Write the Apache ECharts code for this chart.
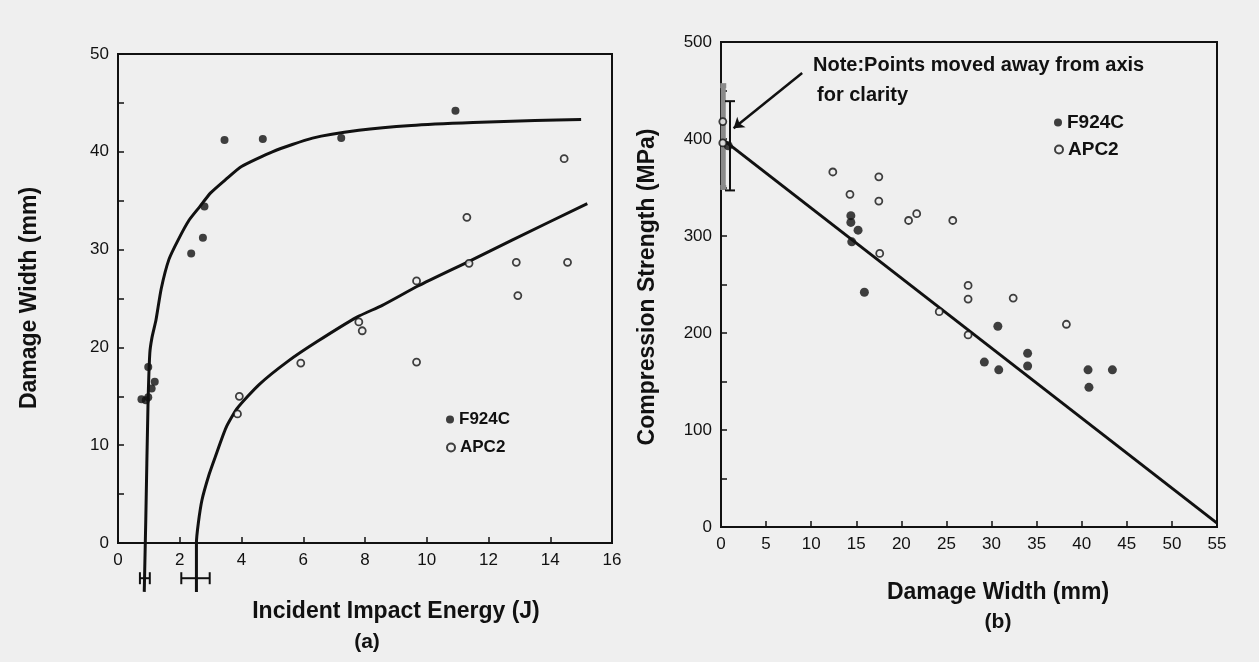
<!DOCTYPE html>
<html>
<head>
<meta charset="utf-8">
<script src="https://cdn.jsdelivr.net/npm/echarts@6/dist/echarts.min.js"></script>
<style>
html, body { margin: 0; padding: 0; background: #efefef; }
#chart { width: 1259px; height: 662px; }
</style>
</head>
<body>
<div id="chart"></div>
<script>
// (a) damage width vs incident impact energy
var aF924cX = [0.76, 0.9, 0.98, 1.09, 1.19, 0.98, 2.37, 2.75, 2.8, 3.45, 4.69, 7.23, 10.93];
var aF924cY = [14.7, 14.6, 14.9, 15.8, 16.5, 18.0, 29.6, 31.2, 34.4, 41.2, 41.3, 41.4, 44.2];
var aApc2X = [3.87, 3.93, 5.92, 7.8, 7.91, 9.67, 9.67, 11.3, 11.37, 12.9, 12.95, 14.45, 14.56];
var aApc2Y = [13.2, 15.0, 18.4, 22.6, 21.7, 18.5, 26.8, 33.3, 28.6, 28.7, 25.3, 39.3, 28.7];
// fitted curves
var aF924cFitX = [0.85, 0.9, 0.97, 1.03, 1.1, 1.23, 1.4, 1.65, 1.95, 2.3, 2.65, 3.0, 3.5, 4.0, 5.0, 6.3, 7.8, 9.5, 11.5, 13.5, 15.0];
var aF924cFitY = [-5, 2.4, 13.9, 19.4, 21, 22.8, 26, 29, 31.0, 33.0, 34.4, 35.8, 37.2, 38.5, 40.0, 41.4, 42.2, 42.7, 43.0, 43.2, 43.3];
var aApc2FitX = [2.54, 2.54, 2.6, 2.72, 2.95, 3.15, 3.5, 3.87, 4.57, 5.51, 6.45, 7.74, 8.56, 9.73, 11.37, 12.78, 15.2];
var aApc2FitY = [-5, 0, 2, 4.4, 7, 8.8, 11.8, 13.8, 16.2, 18.6, 20.6, 23.1, 24.3, 26.3, 28.8, 31.0, 34.7];
// threshold error bars under the energy axis
var aErrY = [-3.6, -3.6];
var aErrLow = [0.71, 2.05];
var aErrHigh = [1.03, 2.97];
var aXTicks = [0, 16, 2];
var aYTicks = [0, 50, 5];

// (b) compression strength vs damage width
var bF924cX = [0.8, 14.4, 14.4, 15.2, 14.5, 15.9, 29.2, 30.7, 30.8, 34.0, 34.0, 40.7, 40.8, 43.4];
var bF924cY = [393, 321, 314, 306, 294, 242, 170, 207, 162, 179, 166, 162, 144, 162];
var bApc2X = [0.2, 0.2, 12.4, 14.3, 17.5, 17.5, 17.6, 20.8, 21.7, 25.7, 24.2, 27.4, 27.4, 27.4, 32.4, 38.3];
var bApc2Y = [418, 396, 366, 343, 361, 336, 282, 316, 323, 316, 222, 249, 235, 198, 236, 209];
var bFitX = [0.4, 55];
var bFitY = [398, 4];
var bErrX = [0.25, 1.0];
var bErrLow = [350, 347];
var bErrHigh = [455, 439];
var bArrowX = [9.0, 1.4];
var bArrowY = [468, 411];
var bXTicks = [0, 55, 5];
var bYTicks = [0, 500, 50];

var BG = '#efefef';
var INK = '#111';
var FONT = '"Liberation Sans", Arial, sans-serif';

var zip = function (xs, ys) {
    return xs.map(function (x, i) { return [x, ys[i]]; });
};

var axisCommon = function (ticks, gridIndex, step) {
    return {
        type: 'value', gridIndex: gridIndex,
        min: ticks[0], max: ticks[1], interval: ticks[2],
        splitLine: { show: false },
        axisLine: { lineStyle: { color: INK, width: 2 } },
        axisTick: { inside: true, length: 6, lineStyle: { color: INK, width: 1.5 } },
        axisLabel: {
            color: '#111', fontFamily: FONT, fontSize: 17, margin: 9,
            formatter: function (v) { return v % step === 0 ? String(v) : ''; }
        }
    };
};

// error bar drawn in pixels from data ends
var errBar = function (vertical, color, width, cap) {
    return function (params, api) {
        var c = api.value(0), lo = api.value(1), hi = api.value(2);
        var p1 = vertical ? api.coord([c, lo]) : api.coord([lo, c]);
        var p2 = vertical ? api.coord([c, hi]) : api.coord([hi, c]);
        var st = { stroke: color, lineWidth: width };
        var caps = vertical ? [
            { type: 'line', shape: { x1: p1[0] - cap, y1: p1[1], x2: p1[0] + cap, y2: p1[1] }, style: st },
            { type: 'line', shape: { x1: p2[0] - cap, y1: p2[1], x2: p2[0] + cap, y2: p2[1] }, style: st }
        ] : [
            { type: 'line', shape: { x1: p1[0], y1: p1[1] - cap, x2: p1[0], y2: p1[1] + cap }, style: st },
            { type: 'line', shape: { x1: p2[0], y1: p2[1] - cap, x2: p2[0], y2: p2[1] + cap }, style: st }
        ];
        return {
            type: 'group',
            children: [{ type: 'line', shape: { x1: p1[0], y1: p1[1], x2: p2[0], y2: p2[1] }, style: st }].concat(caps)
        };
    };
};

var filled = { color: INK };
var open = { color: BG, borderColor: INK, borderWidth: 1.8 };

var txt = function (s, x, y, size, opts) {
    opts = opts || {};
    return {
        type: 'text', x: x, y: y, rotation: opts.rot || 0, z: 100,
        style: {
            text: s, fill: INK, font: 'bold ' + size + 'px ' + FONT,
            align: opts.align || 'center', verticalAlign: 'middle'
        }
    };
};

var legendItem = function (name, left, top, size) {
    return {
        data: [name], left: left, top: top, padding: 0,
        itemWidth: 8, itemHeight: 8, selectedMode: false,
        textStyle: { fontFamily: FONT, fontWeight: 'bold', fontSize: size, color: INK }
    };
};

var myChart = echarts.init(document.getElementById('chart'));
myChart.setOption({
    backgroundColor: BG,
    animation: false,
    grid: [
        { left: 118, top: 54, width: 494, height: 489, show: true, borderColor: INK, borderWidth: 2 },
        { left: 721, top: 42, width: 496, height: 485, show: true, borderColor: INK, borderWidth: 2 }
    ],
    xAxis: [axisCommon(aXTicks, 0, 2), axisCommon(bXTicks, 1, 5)],
    yAxis: [axisCommon(aYTicks, 0, 10), axisCommon(bYTicks, 1, 100)],
    legend: [
        legendItem('F924C', 446, 411, 17),
        legendItem('APC2', 446, 439, 17),
        legendItem('F924C', 1054, 113, 19),
        legendItem('APC2', 1054, 140, 19)
    ],
    graphic: [
        txt('Damage Width (mm)', 30, 298, 23, { rot: Math.PI / 2 }),
        txt('Incident Impact Energy (J)', 396, 612, 23),
        txt('(a)', 367, 642, 21),
        txt('Compression Strength (MPa)', 648, 287, 23, { rot: Math.PI / 2 }),
        txt('Damage Width (mm)', 998, 593, 23),
        txt('(b)', 998, 622, 21),
        txt('Note:Points moved away from axis', 813, 65, 20, { align: 'left' }),
        txt('for clarity', 817, 95, 20, { align: 'left' })
    ],
    series: [
        {
            name: 'F924C fit', type: 'line', xAxisIndex: 0, yAxisIndex: 0, clip: false,
            data: zip(aF924cFitX, aF924cFitY), smooth: 0.2, showSymbol: false,
            lineStyle: { color: INK, width: 3 }
        },
        {
            name: 'APC2 fit', type: 'line', xAxisIndex: 0, yAxisIndex: 0, clip: false,
            data: zip(aApc2FitX, aApc2FitY), smooth: 0.2, showSymbol: false,
            lineStyle: { color: INK, width: 3 }
        },
        {
            type: 'custom', xAxisIndex: 0, yAxisIndex: 0, clip: false,
            renderItem: errBar(false, INK, 2, 6),
            data: aErrY.map(function (y, i) { return [y, aErrLow[i], aErrHigh[i]]; })
        },
        {
            name: 'F924C', type: 'scatter', xAxisIndex: 0, yAxisIndex: 0,
            symbol: 'circle', symbolSize: 8, itemStyle: filled, z: 5,
            data: zip(aF924cX, aF924cY)
        },
        {
            name: 'APC2', type: 'scatter', xAxisIndex: 0, yAxisIndex: 0,
            symbol: 'circle', symbolSize: 7, itemStyle: open, z: 5,
            data: zip(aApc2X, aApc2Y)
        },
        {
            name: 'strength fit', type: 'line', xAxisIndex: 1, yAxisIndex: 1,
            data: zip(bFitX, bFitY), showSymbol: false,
            lineStyle: { color: INK, width: 3 },
            markLine: {
                silent: true, symbol: ['none', 'arrow'], symbolSize: 10,
                label: { show: false },
                lineStyle: { color: INK, width: 2.5, type: 'solid' },
                data: [[{ coord: [bArrowX[0], bArrowY[0]] }, { coord: [bArrowX[1], bArrowY[1]] }]]
            }
        },
        {
            type: 'custom', xAxisIndex: 1, yAxisIndex: 1, clip: false,
            renderItem: errBar(true, '#8a8a8a', 5, 3),
            data: [[bErrX[0], bErrLow[0], bErrHigh[0]]]
        },
        {
            type: 'custom', xAxisIndex: 1, yAxisIndex: 1, clip: false,
            renderItem: errBar(true, INK, 2, 5),
            data: [[bErrX[1], bErrLow[1], bErrHigh[1]]]
        },
        {
            name: 'F924C', type: 'scatter', xAxisIndex: 1, yAxisIndex: 1,
            symbol: 'circle', symbolSize: 9, itemStyle: filled, z: 5,
            data: zip(bF924cX, bF924cY)
        },
        {
            name: 'APC2', type: 'scatter', xAxisIndex: 1, yAxisIndex: 1,
            symbol: 'circle', symbolSize: 7, itemStyle: open, z: 5,
            data: zip(bApc2X, bApc2Y)
        }
    ]
});
</script>
</body>
</html>
